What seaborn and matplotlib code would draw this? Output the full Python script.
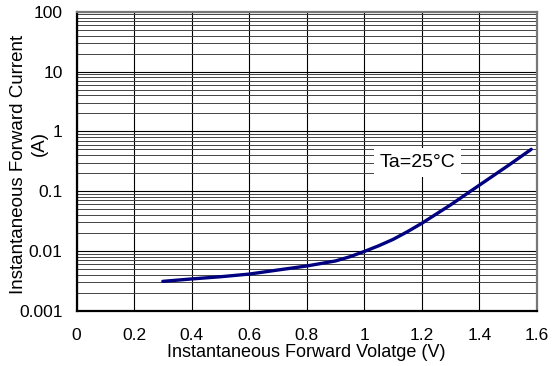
import matplotlib
matplotlib.use("Agg")
import matplotlib.pyplot as plt
import seaborn as sns
import pandas as pd

# forward voltage (V) vs instantaneous forward current (A)
voltage = [0.3, 0.4, 0.5, 0.6, 0.7, 0.8, 0.9, 0.95, 1.0, 1.05, 1.1, 1.15,
           1.2, 1.3, 1.4, 1.5, 1.58]
current = [0.0031, 0.0034, 0.0037, 0.0041, 0.0048, 0.0056, 0.0068, 0.0080,
           0.0098, 0.0122, 0.0156, 0.021, 0.029, 0.059, 0.126, 0.268, 0.5]
x_ticks = [0, 0.2, 0.4, 0.6, 0.8, 1, 1.2, 1.4, 1.6]
x_labels = ["0", "0.2", "0.4", "0.6", "0.8", "1", "1.2", "1.4", "1.6"]
y_ticks = [0.001, 0.01, 0.1, 1, 10, 100]
y_labels = ["0.001", "0.01", "0.1", "1", "10", "100"]

sns.set_style("white")
plt.rcParams["font.family"] = ["Liberation Sans", "DejaVu Sans"]
plt.rcParams["text.color"] = "black"
plt.rcParams["axes.labelcolor"] = "black"
plt.rcParams["xtick.color"] = "black"
plt.rcParams["ytick.color"] = "black"

df = pd.DataFrame({"V": voltage, "I": current})

fig = plt.figure(figsize=(5.52, 3.66), dpi=100)
ax = fig.add_axes([0.1386, 0.151, 0.8342, 0.817])

ax.set_yscale("log")
ax.set_xlim(0, 1.6)
ax.set_ylim(0.001, 100)

ax.grid(True, which="major", axis="both", color="black", lw=0.8)
ax.grid(True, which="minor", axis="y", color="#444444", lw=0.7)
ax.set_axisbelow(True)

sns.lineplot(data=df, x="V", y="I", ax=ax, color="#000080", lw=2.4, zorder=5)

ax.set_xticks(x_ticks)
ax.set_xticklabels(x_labels)
ax.set_yticks(y_ticks)
ax.set_yticklabels(y_labels)
ax.tick_params(axis="x", which="both", length=0, pad=12.5, labelsize=12.5)
ax.tick_params(axis="y", which="major", direction="in", length=4, pad=10, labelsize=12.5)
ax.tick_params(axis="y", which="minor", length=0)

for s in ["left", "bottom"]:
    ax.spines[s].set_color("black")
    ax.spines[s].set_linewidth(1.6)
for s in ["top", "right"]:
    ax.spines[s].set_color("#777777")
    ax.spines[s].set_linewidth(1.6)

ax.set_xlabel("Instantaneous Forward Volatge (V)", fontsize=13)
ax.xaxis.set_label_coords(0.5, -0.11)
ax.set_ylabel("Instantaneous Forward Current", fontsize=13.5)
ax.yaxis.set_label_coords(-0.108, 0.49)
ax.text(-0.081, 0.559, "(A)", transform=ax.transAxes, rotation=90,
        fontsize=13.5, ha="center", va="center")

ax.text(1.186, 0.3, "Ta=25°C", fontsize=14, ha="center", va="center",
        bbox=dict(facecolor="white", edgecolor="none", pad=4), zorder=6)

fig.savefig("out.png", dpi=100)
